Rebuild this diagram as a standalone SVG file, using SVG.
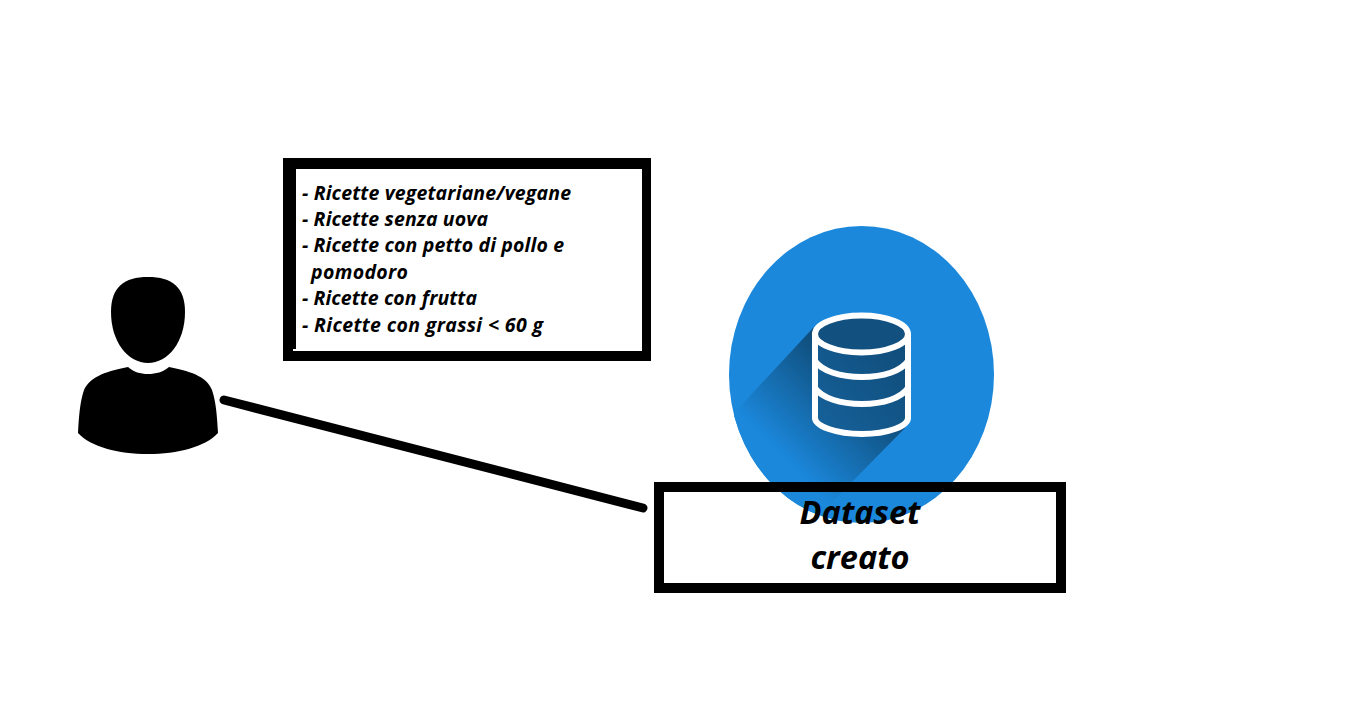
<svg xmlns="http://www.w3.org/2000/svg" width="1350" height="720" viewBox="0 0 1350 720">
<style>
.t{font-family:"Open Sans","Noto Sans",sans-serif;font-weight:700;font-style:italic;fill:#000}
.s{font-size:19.5px}
.b{font-size:32.5px;text-anchor:middle}
.w{fill:none;stroke:#fff;stroke-width:6}
.c{fill:none;stroke:#000;stroke-width:9;stroke-linecap:round}
</style>
<defs>
<linearGradient id="sh" gradientUnits="userSpaceOnUse" x1="860" y1="380" x2="782" y2="458">
<stop offset="0" stop-color="#0f4c78"/>
<stop offset="1" stop-color="#1b88dc"/>
</linearGradient>
<linearGradient id="cy" gradientUnits="userSpaceOnUse" x1="815" y1="434" x2="908" y2="360">
<stop offset="0" stop-color="#16629c"/>
<stop offset="1" stop-color="#104e7c"/>
</linearGradient>
<clipPath id="ec"><ellipse cx="861.5" cy="374.5" rx="132.5" ry="148.5"/></clipPath>
</defs>
<rect width="1350" height="720" fill="#fff"/>
<g id="dataset-icon">
<ellipse cx="861.5" cy="374.5" rx="132.5" ry="148.5" fill="#1b88dc"/>
<path clip-path="url(#ec)" d="M813 328L722 426L790 545L905 428Z" fill="url(#sh)"/>
<path d="M815 334V418C815 426 836 434 862 434C888 434 908 426 908 418V334C908 324 888 316 862 316C836 316 815 324 815 334Z" fill="url(#cy)"/>
<ellipse cx="861.5" cy="334" rx="46.5" ry="18.5" fill="#11507f"/>
<path class="w" d="M815 334V418C815 426 836 434 862 434C888 434 908 426 908 418V334"/>
<ellipse class="w" cx="861.5" cy="334" rx="46.5" ry="18.5"/>
<path class="w" d="M815 361C822 371 840 377 862 377C884 377 901 371 908 361M815 388C822 398 840 404 862 404C884 404 901 398 908 388"/>
</g>
<g id="dataset-label">
<rect x="659" y="487" width="402" height="101" fill="none" stroke="#000" stroke-width="10"/>
<text class="t b" x="860" y="524">Dataset</text>
<text class="t b" x="860" y="569">creato</text>
</g>
<g id="user">
<path d="M148 277C172 277 185 287 185 312C185 342 168 363 148 363C128 363 111 342 111 312C111 287 124 277 148 277Z"/>
<path d="M128 367C134 372 140 374 148 374C156 374 163 372 169 367C195 372 207 378 212 390C216 402 217 415 218 433C205 447 178 454 148 454C118 454 91 447 78 433C79 415 80 402 84 390C90 378 102 372 128 367Z"/>
</g>
<g id="criteria">
<path fill="#000" fill-rule="evenodd" d="M283 158H651V361H283ZM296 169V349H293V351H642V169Z"/>
<text class="t s" x="302" y="200" textLength="269">- Ricette vegetariane/vegane</text>
<text class="t s" x="302" y="226" textLength="186">- Ricette senza uova</text>
<text class="t s" x="302" y="252" textLength="262">- Ricette con petto di pollo e</text>
<text class="t s" x="311" y="279" textLength="97">pomodoro</text>
<text class="t s" x="302" y="305" textLength="175">- Ricette con frutta</text>
<text class="t s" x="302" y="332" textLength="241">- Ricette con grassi &lt; 60 g</text>
</g>
<g id="connectors">
<line class="c" x1="224" y1="400" x2="643" y2="508"/>
</g>
</svg>
